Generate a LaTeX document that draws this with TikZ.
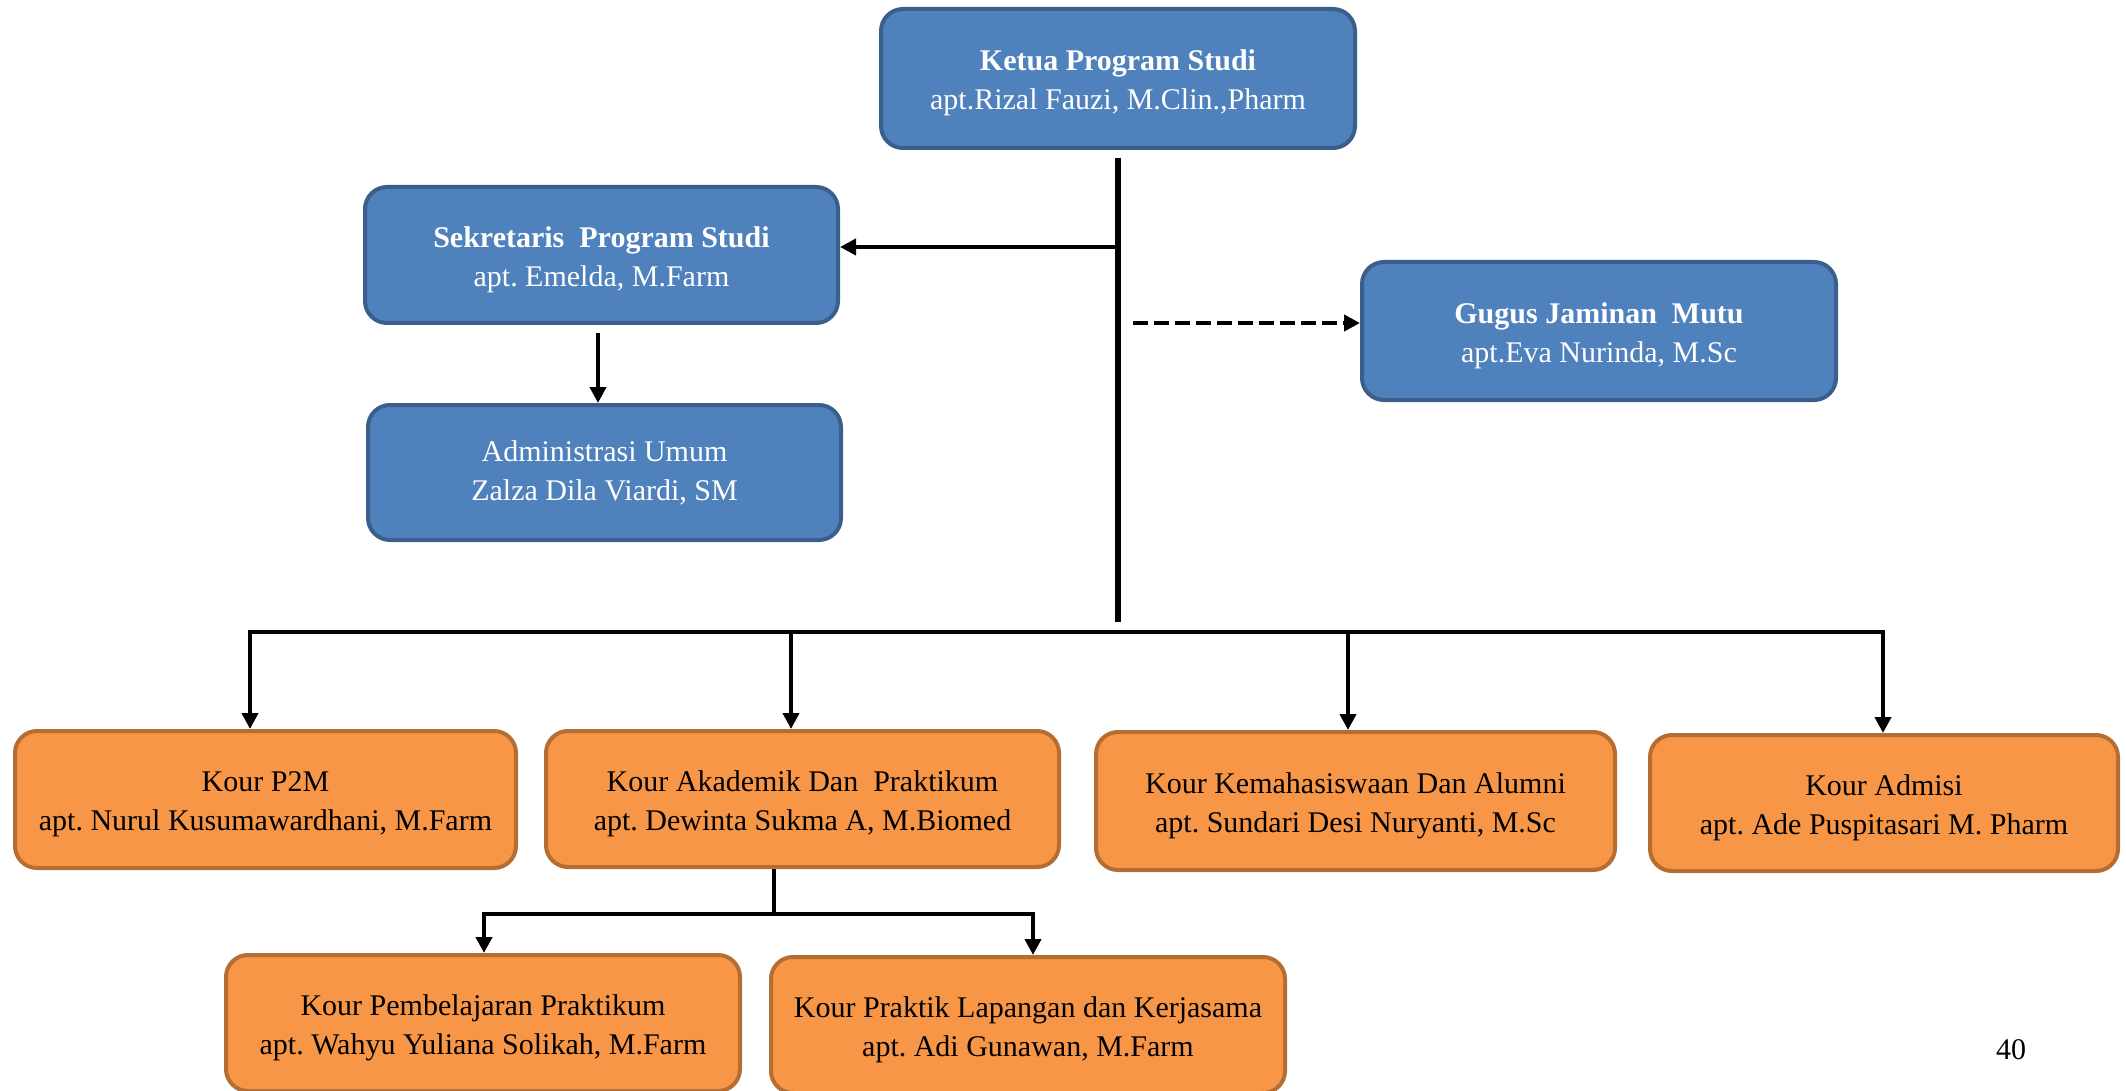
\documentclass[tikz,border=0pt]{standalone}
\usepackage{fontspec}
\setmainfont{Liberation Serif}
\usetikzlibrary{arrows.meta}
\frenchspacing
\newcommand\topstrut{\rule{0pt}{15pt}}
\definecolor{bfill}{HTML}{4F81BD}
\definecolor{bline}{HTML}{3A5F8C}
\definecolor{ofill}{HTML}{F79646}
\definecolor{oline}{HTML}{B66D31}
\tikzset{
  box/.style={rounded corners=11pt, line width=2pt, align=center, inner sep=0pt,
    font=\fontsize{15}{19.5}\selectfont},
  bluebox/.style={box, fill=bfill, draw=bline, text=white},
  orangebox/.style={box, fill=ofill, draw=oline, text=black},
  conn/.style={line width=2.3pt, black},
  mainline/.style={line width=3pt, black},
  arr/.style={conn, -{Triangle[length=8pt,width=8pt]}},
  arrboth/.style={conn, {Triangle[length=8pt,width=8pt]}-{Triangle[length=8pt,width=8pt]}},
  dasharr/.style={arr, dash pattern=on 7.5pt off 3pt},
  pagenum/.style={font=\fontsize{15}{18}\selectfont, inner sep=0pt}
}
\begin{document}
\begin{tikzpicture}[x=0.5pt,y=-0.5pt]
\useasboundingbox (0,0) rectangle (2126,1091);

% blue boxes
\node[bluebox, minimum width=237pt, minimum height=69.5pt] (ketua) at (1118,78.5)
  {\topstrut\textbf{Ketua Program Studi}\\apt.Rizal Fauzi, M.Clin.,Pharm};
\node[bluebox, minimum width=236.5pt, minimum height=68pt] (sek) at (601.5,255)
  {\topstrut\textbf{Sekretaris\ \ Program Studi}\\apt. Emelda, M.Farm};
\node[bluebox, minimum width=236.5pt, minimum height=67.5pt] (adm) at (604.5,472.5)
  {Administrasi Umum\\Zalza Dila Viardi, SM};
\node[bluebox, minimum width=237pt, minimum height=69pt] (gugus) at (1599,331)
  {\topstrut\textbf{Gugus Jaminan\ \ Mutu}\\apt.Eva Nurinda, M.Sc};

% orange boxes
\node[orangebox, minimum width=250.5pt, minimum height=68.5pt] (p2m) at (265.5,799.5)
  {\topstrut Kour P2M\\apt. Nurul Kusumawardhani, M.Farm};
\node[orangebox, minimum width=256.5pt, minimum height=68pt] (akd) at (802.5,799)
  {\topstrut Kour Akademik Dan\ \ Praktikum\\apt. Dewinta Sukma A, M.Biomed};
\node[orangebox, minimum width=259.5pt, minimum height=69pt] (kmh) at (1355.5,801)
  {\topstrut Kour Kemahasiswaan Dan Alumni\\apt. Sundari Desi Nuryanti, M.Sc};
\node[orangebox, minimum width=234pt, minimum height=68pt] (admisi) at (1884,803)
  {\topstrut Kour Admisi\\apt. Ade Puspitasari M. Pharm};
\node[orangebox, minimum width=257pt, minimum height=68pt] (pmb) at (483,1023)
  {\topstrut Kour Pembelajaran Praktikum\\apt. Wahyu Yuliana Solikah, M.Farm};
\node[orangebox, minimum width=257pt, minimum height=68pt] (pkl) at (1028,1025)
  {\topstrut Kour Praktik Lapangan dan Kerjasama\\apt. Adi Gunawan, M.Farm};

\node[pagenum] (pg) at (2011,1050) {40};

% helper coordinates
\coordinate (vbot) at (1118,622);
\coordinate (sj) at (1116,247);
\coordinate (dj) at (1133,323);
\coordinate (barL) at (250,632);
\coordinate (barR) at (1883,632);
\coordinate (d2) at (791,632);
\coordinate (d3) at (1348,632);
\coordinate (sb) at (774,914);
\coordinate (sbL) at (484,914);
\coordinate (sbR) at (1033,914);

% connectors
\draw[mainline] ([yshift=-4pt]ketua.south) -- (vbot);
\draw[arr] (sj) -- (sj -| sek.east);
\draw[arr] ([yshift=-4pt]sek.south -| 598,0) -- (598,0 |- adm.north);
\draw[dasharr] (dj) -- (dj -| gugus.west);

\draw[arrboth] (barL |- p2m.north) -- (barL) -- (barR) -- (barR |- admisi.north);
\draw[arr] (d2) -- (d2 |- akd.north);
\draw[arr] (d3) -- (d3 |- kmh.north);

\draw[conn] (sb |- akd.south) -- (sb);
\draw[arrboth] (sbL |- pmb.north) -- (sbL) -- (sbR) -- (sbR |- pkl.north);
\end{tikzpicture}
\end{document}
